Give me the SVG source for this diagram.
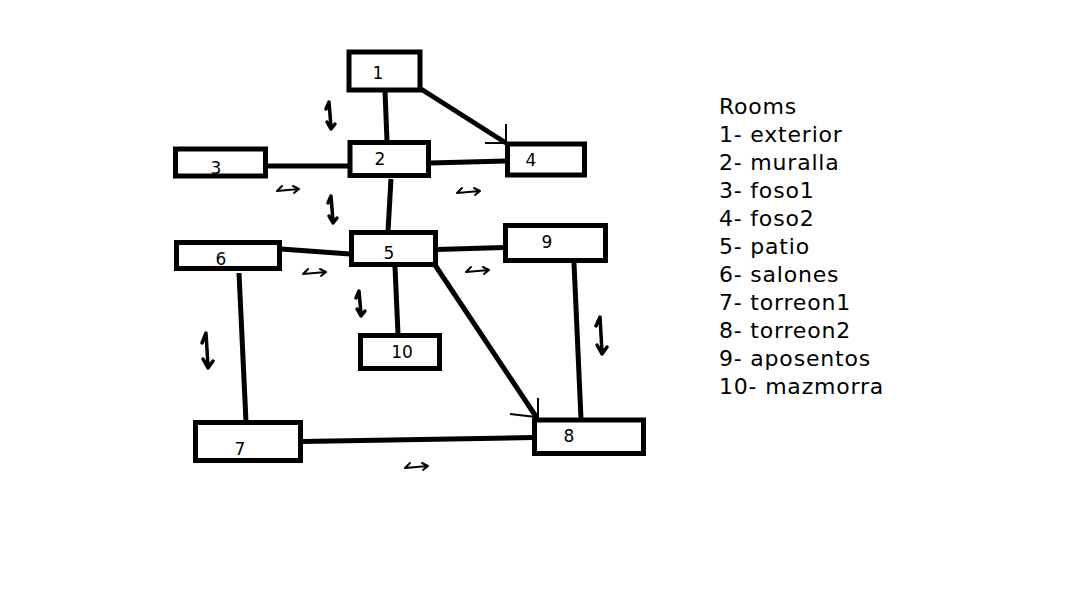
<svg xmlns="http://www.w3.org/2000/svg" width="1074" height="615" viewBox="0 0 1074 615">
<style>
.box{fill:#fff;stroke:#000;stroke-width:5}
.lbl{font-family:"DejaVu Sans",Verdana,sans-serif;font-size:17px;fill:#000;text-anchor:middle}
.edge{stroke:#000;stroke-width:5;fill:none;stroke-linecap:butt}
.thin{stroke:#000;stroke-width:2;fill:none}
.dh{stroke:#000;stroke-width:2;fill:none;stroke-linecap:round;stroke-linejoin:round}
.dv{stroke:#000;stroke-width:3.5;fill:none;stroke-linecap:round;stroke-linejoin:round}
.legend{font-family:"DejaVu Sans",Verdana,sans-serif;font-size:22px;letter-spacing:0.8px;fill:#000}
</style>
<rect width="1074" height="615" fill="#fff"/>
<g id="connectors">
<line class="edge" x1="385" y1="91" x2="387" y2="141"/>
<line class="edge" x1="421" y1="89" x2="506" y2="143"/>
<line class="thin" x1="506" y1="124" x2="506" y2="143"/>
<line class="thin" x1="485" y1="143" x2="506" y2="143"/>
<line class="edge" x1="268" y1="166" x2="349" y2="166"/>
<line class="edge" x1="430" y1="163" x2="506" y2="161"/>
<line class="edge" x1="391" y1="179" x2="388" y2="231"/>
<line class="edge" x1="281" y1="249" x2="350" y2="254"/>
<line class="edge" x1="437" y1="249.5" x2="504" y2="247.5"/>
<line class="edge" x1="395" y1="267" x2="398" y2="334"/>
<line class="edge" x1="435" y1="265" x2="537" y2="418"/>
<line class="thin" x1="538" y1="398" x2="538" y2="418"/>
<line class="thin" x1="510" y1="414" x2="536" y2="417"/>
<line class="edge" x1="239" y1="273" x2="246" y2="422"/>
<line class="edge" x1="574" y1="263" x2="581" y2="419"/>
<line class="edge" x1="302" y1="441.5" x2="533" y2="437.5"/>
<path class="dh" d="M282,186 L277,191 L299,189 M293,186 L299,189 L294,193"/>
<path class="dh" d="M462,188 L457,193 L480,191 M474,188 L480,191 L475,195"/>
<path class="dh" d="M308,269 L303,274 L326,272 M320,269 L326,272 L321,276"/>
<path class="dh" d="M471,267 L466,272 L489,270 M483,267 L489,270 L484,274"/>
<path class="dh" d="M410,463 L405,468 L428,466 M422,463 L428,466 L423,470"/>
<path class="dv" d="M326,109 L329,102 L331,127 M327,122 L331,129 L335,124"/>
<path class="dv" d="M328,203 L331,196 L333,221 M329,216 L333,223 L337,218"/>
<path class="dv" d="M356,298 L359,291 L361,314 M357,309 L361,316 L365,311"/>
<path class="dv" d="M202,343 L206,333 L208,366 M203,359 L208,368 L213,361"/>
<path class="dv" d="M596,326 L600,317 L602,352 M597,345 L602,354 L607,347"/>
</g>
<g id="node1"><rect class="box" x="349" y="52" width="71" height="38"/><text class="lbl" x="378" y="79">1</text></g>
<g id="node2"><rect class="box" x="350" y="142.5" width="78.5" height="33"/><text class="lbl" x="380" y="165">2</text></g>
<g id="node3"><rect class="box" x="175.5" y="149" width="90" height="27"/><text class="lbl" x="216" y="174">3</text></g>
<g id="node4"><rect class="box" x="507.5" y="144" width="77" height="31"/><text class="lbl" x="531" y="166">4</text></g>
<g id="node5"><rect class="box" x="351.5" y="232.5" width="84" height="32"/><text class="lbl" x="389" y="259">5</text></g>
<g id="node6"><rect class="box" x="176.5" y="242.5" width="103" height="26"/><text class="lbl" x="221" y="265">6</text></g>
<g id="node7"><rect class="box" x="195.5" y="422.5" width="105" height="38"/><text class="lbl" x="240" y="455">7</text></g>
<g id="node8"><rect class="box" x="534.5" y="420" width="109" height="33.5"/><text class="lbl" x="569" y="442">8</text></g>
<g id="node9"><rect class="box" x="505.5" y="225.5" width="100" height="35"/><text class="lbl" x="547" y="248">9</text></g>
<g id="node10"><rect class="box" x="360.5" y="335.5" width="79" height="33"/><text class="lbl" x="402" y="358">10</text></g>
<g id="legend">
<text class="legend" x="719" y="114">Rooms</text>
<text class="legend" x="719" y="142">1- exterior</text>
<text class="legend" x="719" y="170">2- muralla</text>
<text class="legend" x="719" y="198">3- foso1</text>
<text class="legend" x="719" y="226">4- foso2</text>
<text class="legend" x="719" y="254">5- patio</text>
<text class="legend" x="719" y="282">6- salones</text>
<text class="legend" x="719" y="310">7- torreon1</text>
<text class="legend" x="719" y="338">8- torreon2</text>
<text class="legend" x="719" y="366">9- aposentos</text>
<text class="legend" x="719" y="394">10- mazmorra</text>
</g>
</svg>
